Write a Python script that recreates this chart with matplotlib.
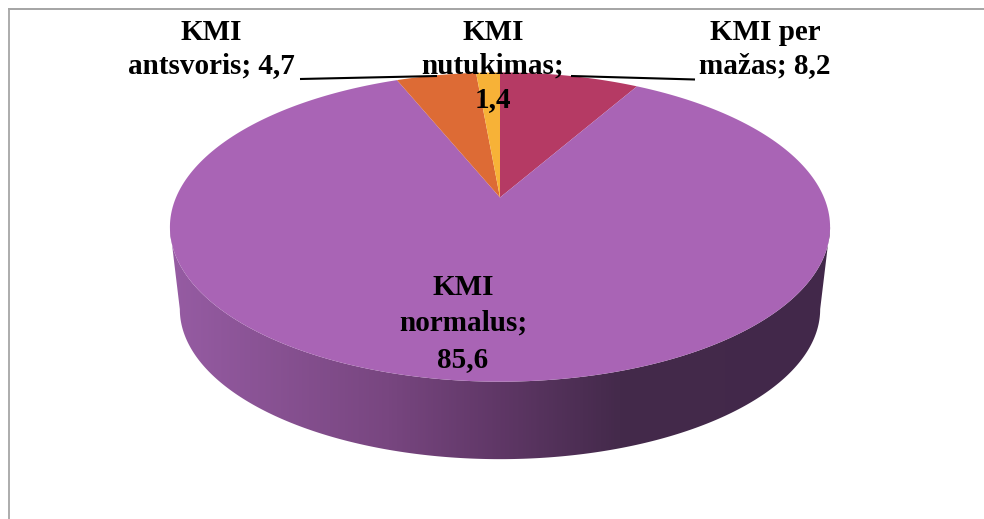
import numpy as np
import matplotlib
matplotlib.use("Agg")
import matplotlib.pyplot as plt
from matplotlib.colors import LinearSegmentedColormap
from matplotlib.patches import PathPatch
from matplotlib.path import Path
from matplotlib.transforms import Affine2D, Transform

# Data
categories = ["KMI per mažas", "KMI normalus", "KMI antsvoris", "KMI nutukimas"]
values = [8.2, 85.6, 4.7, 1.4]
label_texts = ["KMI per\nmažas; 8,2", "KMI\nnormalus;\n85,6", "KMI\nantsvoris; 4,7", "KMI\nnutukimas;\n1,4"]

# Style
colors = ["#B53A64", "#A964B5", "#DD6B35", "#F7B237"]
label_positions = [(765, 19), (463, 274), (211, 19), (493, 19)]
label_spacing = [1.28, 1.42, 1.28, 1.3]
wall_stops = [(0.0, "#965CA3"), (0.33, "#784680"), (0.5, "#5F3766"), (0.68, "#442A4B"), (1.0, "#42284A")]
W, H = 984, 519
CX, CY = 500.0, 197.5
RX, A, B = 324.0, 149.0, 0.191
DEPTH_SCALE, DEPTH_Y = 0.97, 280.5

plt.rcParams["font.family"] = ["Liberation Serif", "DejaVu Serif"]


class TiltedDisc(Transform):
    """Perspective view of the unit pie onto the page (pixel units, y down)."""
    input_dims = output_dims = 2
    is_affine = False

    def __init__(self, scale=1.0, cy=CY):
        super().__init__()
        self.scale, self.cy = scale, cy

    def transform_non_affine(self, values):
        v = np.asarray(values, float)
        d = 1 + B * v[:, 1]
        return np.column_stack([CX + self.scale * RX * v[:, 0] / d,
                                self.cy - self.scale * A * v[:, 1] / d])

    def transform_path_non_affine(self, path):
        poly = path.transformed(Affine2D().scale(2000)).to_polygons()[0] / 2000
        return Path(self.transform_non_affine(poly), closed=True)

    def inverted(self):
        raise NotImplementedError


fig = plt.figure(figsize=(W / 100, H / 100), dpi=100, facecolor="white")
ax = fig.add_axes([0, 0, 1, 1])

wedges, _ = ax.pie(values, colors=colors, startangle=90, counterclock=False, radius=1,
                   wedgeprops=dict(linewidth=0, edgecolor="none"))
top = TiltedDisc()
for w in wedges:
    w.set_transform(top + ax.transData)
    w.set_zorder(3)

# Side wall of the disc: front arc of the top face joined to front arc of the base
t = np.linspace(np.pi + np.arcsin(B), 2 * np.pi - np.arcsin(B), 300)
circle = np.column_stack([np.cos(t), np.sin(t)])
upper = top.transform_non_affine(circle)
lower = TiltedDisc(DEPTH_SCALE, DEPTH_Y).transform_non_affine(circle)
wall_path = Path(np.vstack([upper, lower[::-1], upper[:1]]), closed=True)
cmap = LinearSegmentedColormap.from_list("wall", wall_stops)
img = ax.imshow(np.linspace(0, 1, 512)[None, :], cmap=cmap, aspect="auto",
                extent=(170, 831, 465, 200), zorder=2)
clip = PathPatch(wall_path, transform=ax.transData, facecolor="none", edgecolor="none")
ax.add_patch(clip)
img.set_clip_path(clip)

# Frame of the original chart area
ax.plot([8, W], [8.5, 8.5], color="#8C8C8C", lw=1.1, zorder=1, solid_capstyle="butt")
ax.plot([8.5, 8.5], [8, H], color="#A6A6A6", lw=1.3, zorder=1, solid_capstyle="butt")

# Leader lines
ax.plot([300, 437], [79, 76], color="black", lw=1.5, zorder=4, solid_capstyle="butt")
ax.plot([571, 695], [76, 79.5], color="black", lw=1.5, zorder=4, solid_capstyle="butt")

for txt, (x, y), sp in zip(label_texts, label_positions, label_spacing):
    ax.text(x, y, txt, ha="center", va="top", multialignment="center",
            fontsize=21, fontweight="bold", color="black", linespacing=sp, zorder=5)

ax.set_aspect("auto")
ax.set_xlim(0, W)
ax.set_ylim(H, 0)
ax.axis("off")
fig.savefig("out.png", dpi=100, facecolor="white")
